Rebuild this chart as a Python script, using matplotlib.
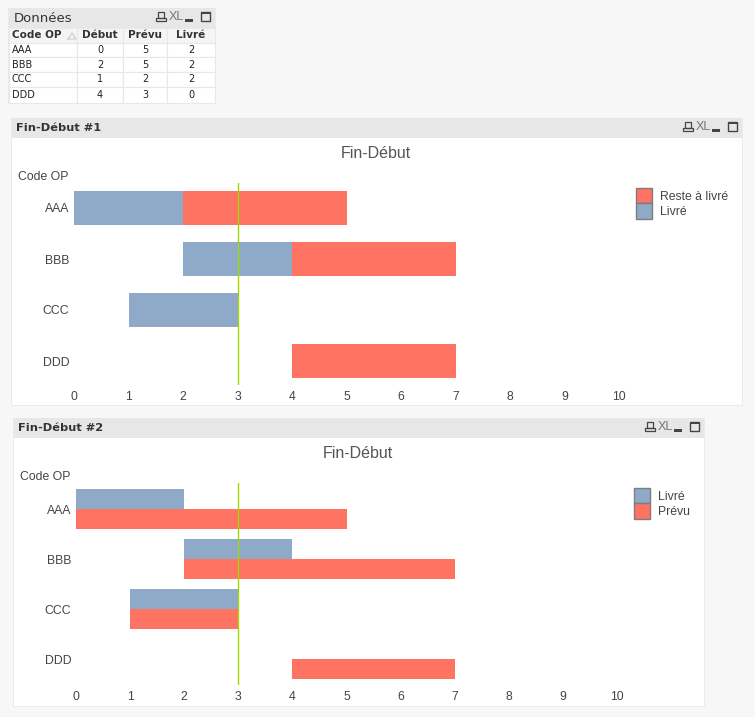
#Recreate the two Fin-Debut panels and the data table

import numpy as np
import matplotlib
matplotlib.use('Agg')
import matplotlib.pyplot as plt
from matplotlib.patches import Rectangle

codes=['AAA','BBB','CCC','DDD']
debut=[0,2,1,4]
prevu=[5,5,2,3]
livre=[2,2,2,0]
today=3 #green reference line
xticks=[0,1,2,3,4,5,6,7,8,9,10]

blue='#8eaac8'
red='#ff7363'
green='#a0d800'
W=755
H=717

plt.rcParams['font.family']=['Liberation Sans','DejaVu Sans']

fig=plt.figure(figsize=(W/100,H/100),dpi=100,facecolor='#f7f7f7')

#overlay in pixel coords for the window frames
bg=fig.add_axes([0,0,1,1],zorder=0)
bg.set_xlim(0,W)
bg.set_ylim(H,0)
bg.axis('off')

def panel(x0,x1,y0,y1,title,size,weight):
	bg.add_patch(Rectangle((x0-1,y0),x1-x0+2,y1-y0+1,fc='#ebebeb',ec='none'))
	bg.add_patch(Rectangle((x0,y0+20),x1-x0,y1-y0-20,fc='white',ec='none'))
	bg.add_patch(Rectangle((x0,y0),x1-x0,20,fc='#e7e7e7',ec='none'))
	bg.text(x0+(5 if weight=='normal' else 4),y0+10,title,fontsize=size,family=['DejaVu Sans'],fontweight=weight,color='#333333',va='center',ha='left')
	#window icons
	r=x1-59
	t=y0+4
	bg.add_patch(Rectangle((r+2,t),6,6,fc='none',ec='#444444',lw=0.9))
	bg.add_patch(Rectangle((r,t+6),10,3,fc='none',ec='#444444',lw=0.9))
	bg.text(r+20,t+5.5,'XL',fontsize=9,color='#777777',ha='center',va='center',stretch='condensed')
	bg.add_patch(Rectangle((r+29,t+7),8,2.5,fc='#444444',ec='none'))
	bg.add_patch(Rectangle((r+45,t),9,9,fc='none',ec='#444444',lw=1))
	bg.add_patch(Rectangle((r+45,t),9,2,fc='#444444',ec='none'))

panel(9,215,8,103,'Données',9.5,'normal')
panel(12,742,118,405,'Fin-Début #1',8.2,'bold')
panel(14,704,418,706,'Fin-Début #2',8.2,'bold')

#data table
colx=[9,77,123,167,215]
rowy=[28,42.5,57,72,87,103]
headers=['Code OP','Début','Prévu','Livré']
for c in range(4):
	for r in range(5):
		bg.add_patch(Rectangle((colx[c],rowy[r]),colx[c+1]-colx[c],rowy[r+1]-rowy[r],
			fc='#f5f5f5' if r==0 else 'white',ec='#e8e8e8',lw=0.8))
tfont=['DejaVu Sans']
bg.text(12,rowy[0]+7.3,headers[0],fontsize=7.5,fontweight='bold',family=tfont,color='#333333',va='center')
bg.plot([68,72,76,68],[39,33,39,39],color='#cccccc',lw=0.8)
for c in range(1,4):
	bg.text((colx[c]+colx[c+1])/2,rowy[0]+7.3,headers[c],fontsize=7.5,fontweight='bold',family=tfont,color='#333333',va='center',ha='center')
for i in range(4):
	ym=(rowy[i+1]+rowy[i+2])/2
	bg.text(12,ym,codes[i],fontsize=7,family=tfont,color='#222222',va='center')
	for c,vals in zip([1,2,3],[debut,prevu,livre]):
		bg.text((colx[c]+colx[c+1])/2,ym,str(vals[i]),fontsize=7,family=tfont,color='#222222',va='center',ha='center')

def chart_axes(x0,x10,top,bottom,first,step):
	ax=fig.add_axes([x0/W,1-bottom/H,(x10-x0)/W,(bottom-top)/H],zorder=1)
	ax.patch.set_alpha(0)
	ax.set_xlim(0,10)
	ax.set_ylim((bottom-first)/step,(top-first)/step)
	ax.set_xticks(xticks)
	ax.set_yticks(range(len(codes)))
	ax.set_yticklabels(codes)
	ax.tick_params(length=0,labelsize=8.8,labelcolor='#444444')
	ax.tick_params(axis='x',pad=4)
	ax.tick_params(axis='y',pad=3.5)
	for s in ax.spines.values():
		s.set_visible(False)
	return ax

def legend(x,y,items,textx):
	for i,(lab,col) in enumerate(items):
		bg.add_patch(Rectangle((x,y+i*15.3),15.5,15.3,fc=col,ec='#7d7d7d',lw=1))
		bg.text(textx,y+8.5+i*15.3,lab,fontsize=8.8,color='#444444',va='center')

deb=np.array(debut)
prv=np.array(prevu)
liv=np.array(livre)
y=np.arange(len(codes))

#chart 1, stacked: livre then what is left
ax1=chart_axes(74,619,183,385,208,51)
ax1.barh(y,liv,left=deb,height=34/51,color=blue)
ax1.barh(y,prv-liv,left=deb+liv,height=34/51,color=red)
ax1.axvline(today,color=green,lw=1)
bg.text(376,153.5,'Fin-Début',fontsize=11.5,color='#555555',ha='center',va='center')
bg.text(18,176.5,'Code OP',fontsize=8.8,color='#444444',va='center')
legend(636,188,[('Reste à livré',red),('Livré',blue)],660)

#chart 2, side by side
ax2=chart_axes(76,617,483,685,509,50)
ax2.barh(y-0.2,liv,left=deb,height=0.4,color=blue)
ax2.barh(y+0.2,prv,left=deb,height=0.4,color=red)
ax2.axvline(today,color=green,lw=1)
bg.text(358,453.5,'Fin-Début',fontsize=11.5,color='#555555',ha='center',va='center')
bg.text(20,476.5,'Code OP',fontsize=8.8,color='#444444',va='center')
legend(634,488,[('Livré',blue),('Prévu',red)],658)

plt.savefig('out.png',dpi=100,facecolor=fig.get_facecolor())
